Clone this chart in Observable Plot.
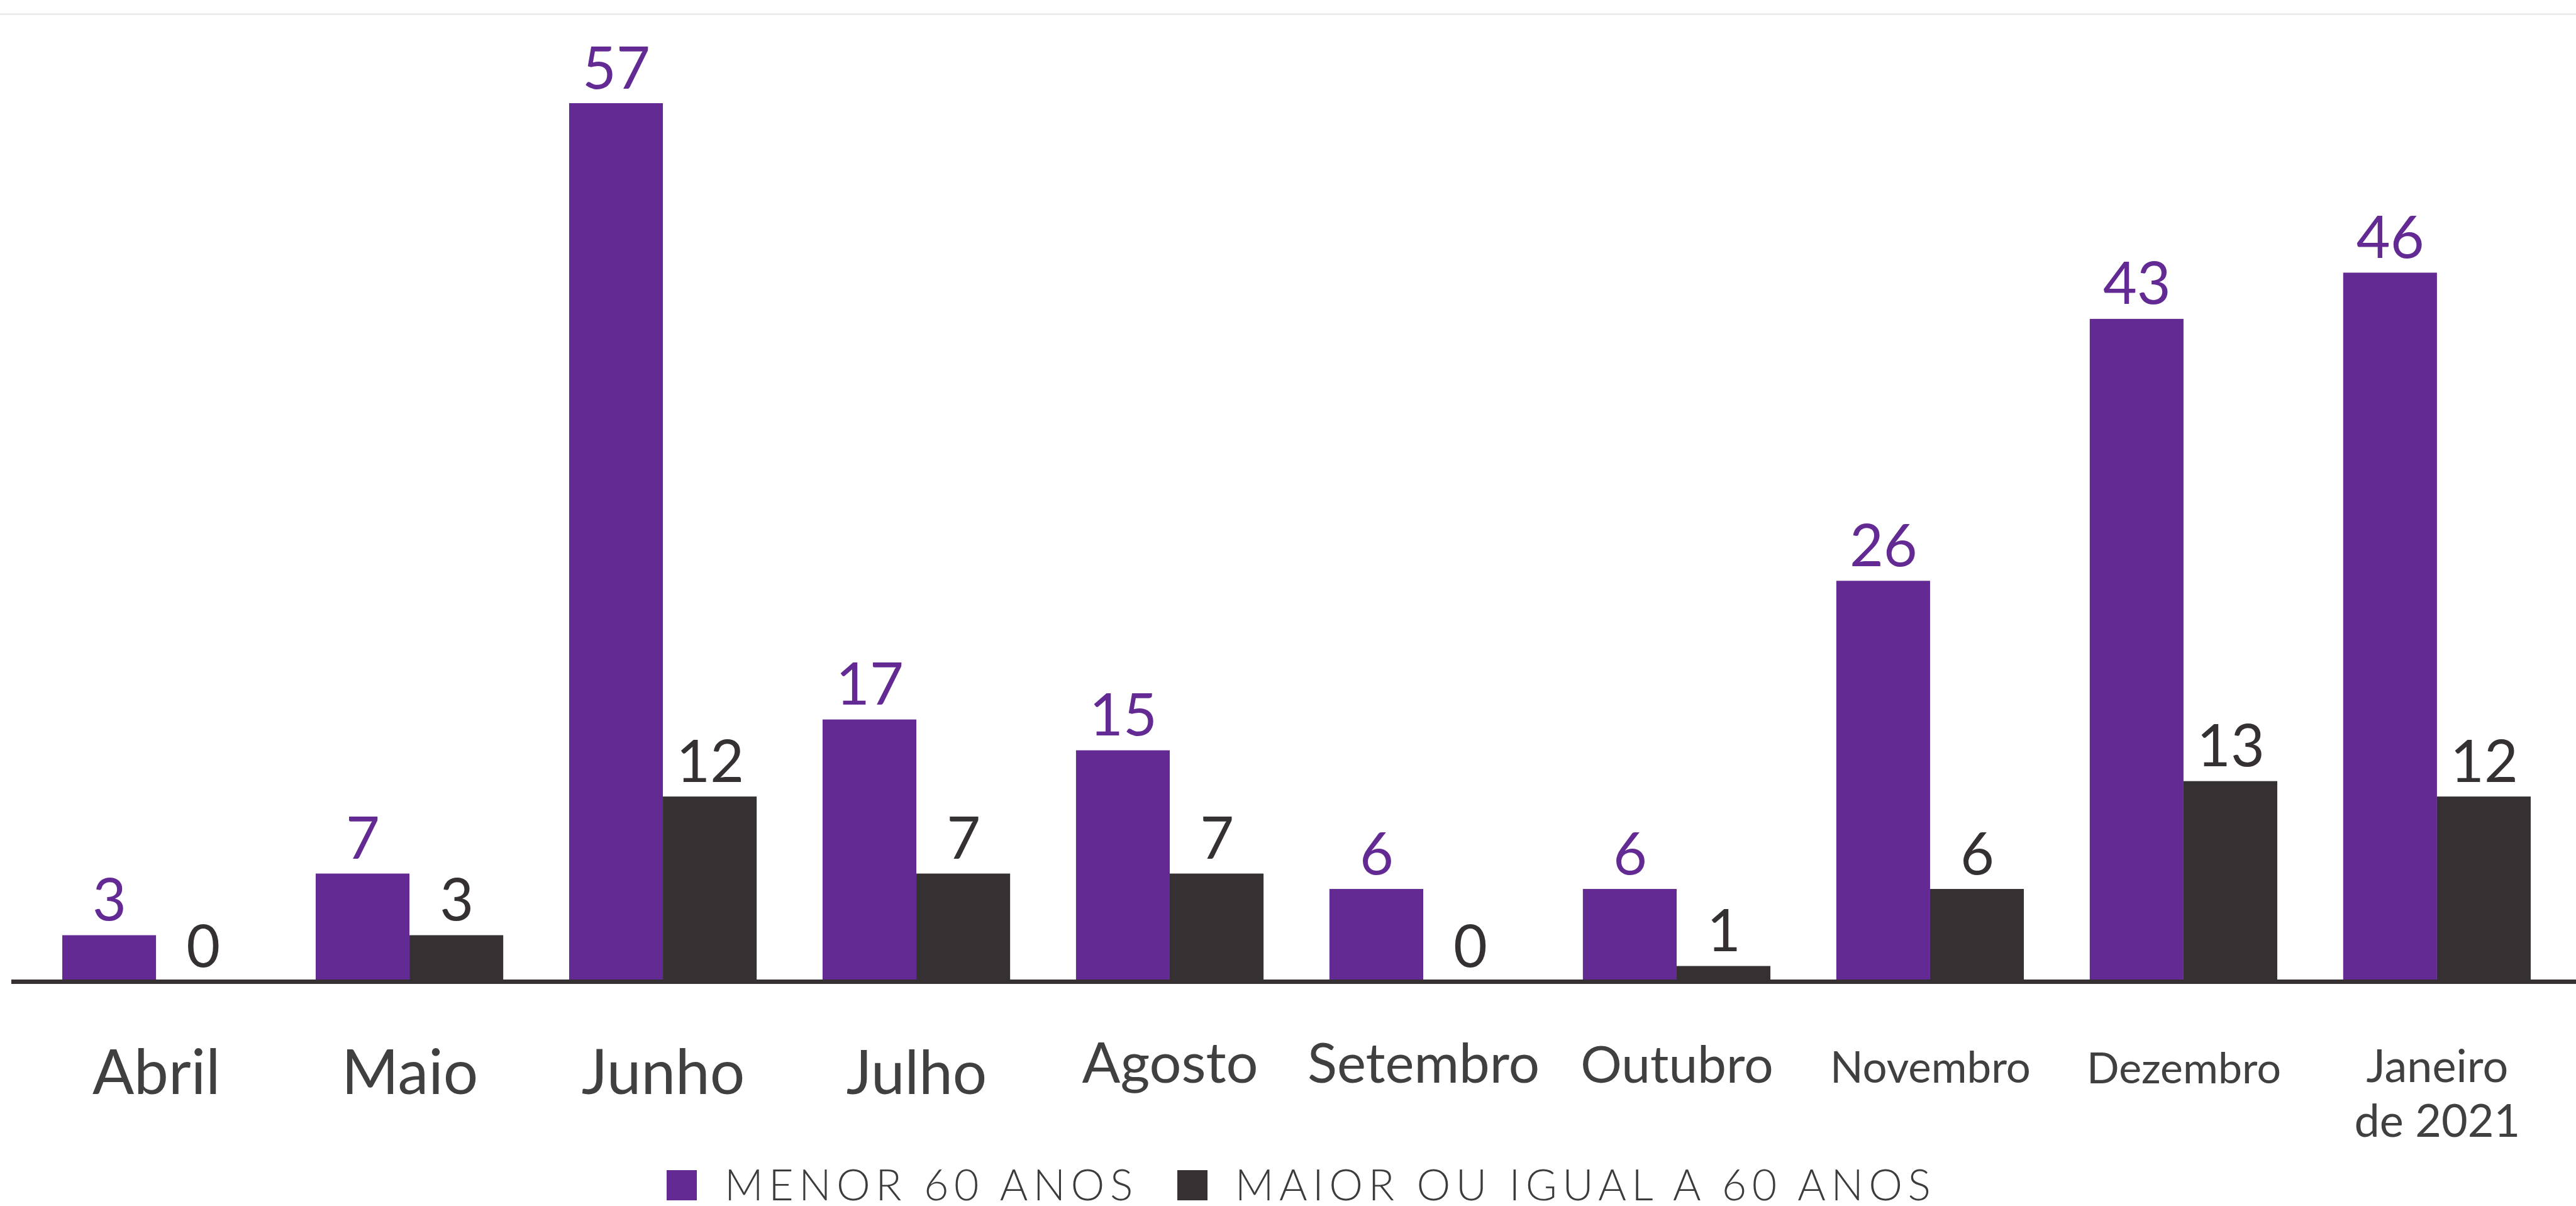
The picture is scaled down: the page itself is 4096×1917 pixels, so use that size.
<!DOCTYPE html>
<html><head><meta charset="utf-8">
<script src="https://cdn.jsdelivr.net/npm/d3@7"></script>
<script src="https://cdn.jsdelivr.net/npm/@observablehq/plot@0.6"></script>
<style>
html,body{margin:0;padding:0;background:#fff;overflow:hidden;}
#wrap{position:relative;width:4096px;height:1917px;}
#chart svg{display:block;}
#topline{position:absolute;left:0;top:21px;width:4096px;height:3px;background:#ececec;}
#legend{position:absolute;left:1060px;top:1848px;display:flex;align-items:flex-start;font-family:Lato,sans-serif;font-weight:300;font-size:68px;line-height:1;color:#3c3c3c;letter-spacing:8.5px;white-space:nowrap;}
.sw{width:48px;height:48px;margin-top:12px;margin-right:44px;flex:none;}
.item{display:flex;align-items:flex-start;margin-right:62px;}
</style></head><body>
<div id="wrap"><div id="chart"></div><div id="topline"></div><div id="legend"></div></div>
<script>
// ---- data ----
const months = ["Abril","Maio","Junho","Julho","Agosto","Setembro","Outubro","Novembro","Dezembro","Janeiro\nde 2021"];
const menor60 = [3,7,57,17,15,6,6,26,43,46];
const maior60 = [0,3,12,7,7,0,1,6,13,12];
const seriesNames = ["MENOR 60 ANOS","MAIOR OU IGUAL A 60 ANOS"];

// ---- styles ----
const purple = "#632a93";
const dark = "#353132";
const labelColor = "#404040";
const labelStyle = {
  "Abril": {size: 98, dy: 178, lh: 1},
  "Maio": {size: 98, dy: 178, lh: 1},
  "Junho": {size: 98, dy: 178, lh: 1},
  "Julho": {size: 96, dy: 178, lh: 1},
  "Agosto": {size: 90, dy: 160, lh: 1},
  "Setembro": {size: 87, dy: 160, lh: 1},
  "Outubro": {size: 82, dy: 160, lh: 1},
  "Novembro": {size: 69, dy: 160, lh: 1},
  "Dezembro": {size: 68, dy: 161, lh: 1},
  "Janeiro\nde 2021": {size: 72, dy: 246, lh: 1.2}
};

const data = months.map((m, i) => ({month: m, menor: menor60[i], maior: maior60[i]}));
const half = 149.1, quarter = 74.6;

const chart = Plot.plot({
  width: 4096,
  height: 1840,
  marginTop: 164,
  marginBottom: 280,
  marginLeft: 18,
  marginRight: 0,
  x: {type: "band", domain: months, range: [99, 4024], paddingInner: 0.26, paddingOuter: 0, round: false, axis: null},
  y: {domain: [0, 57], axis: null},
  style: {fontFamily: "Lato, sans-serif", background: "transparent"},
  marks: [
    Plot.barY(data, {x: "month", y: "menor", fill: purple, insetRight: half}),
    Plot.barY(data, {x: "month", y: "maior", fill: dark, insetLeft: half}),
    Plot.ruleY([0], {stroke: dark, strokeWidth: 7}),
    Plot.text(data, {x: "month", y: "menor", text: d => String(d.menor), dx: -quarter, dy: -24, lineAnchor: "bottom", fill: purple, fontSize: 93}),
    Plot.text(data, {x: "month", y: "maior", text: d => String(d.maior), dx: quarter, dy: -24, lineAnchor: "bottom", fill: dark, fontSize: 93}),
    ...months.map(m => Plot.text([m], {x: d => d, text: d => d, frameAnchor: "bottom", dy: labelStyle[m].dy, lineAnchor: "bottom", lineHeight: labelStyle[m].lh, fontSize: labelStyle[m].size, fill: labelColor}))
  ]
});
document.getElementById("chart").appendChild(chart);

// legend
const legend = document.getElementById("legend");
[purple, dark].forEach((c, i) => {
  const item = document.createElement("div");
  item.className = "item";
  const sw = document.createElement("div");
  sw.className = "sw";
  sw.style.background = c;
  const t = document.createElement("span");
  t.textContent = seriesNames[i];
  item.appendChild(sw);
  item.appendChild(t);
  legend.appendChild(item);
});
</script>
</body></html>
